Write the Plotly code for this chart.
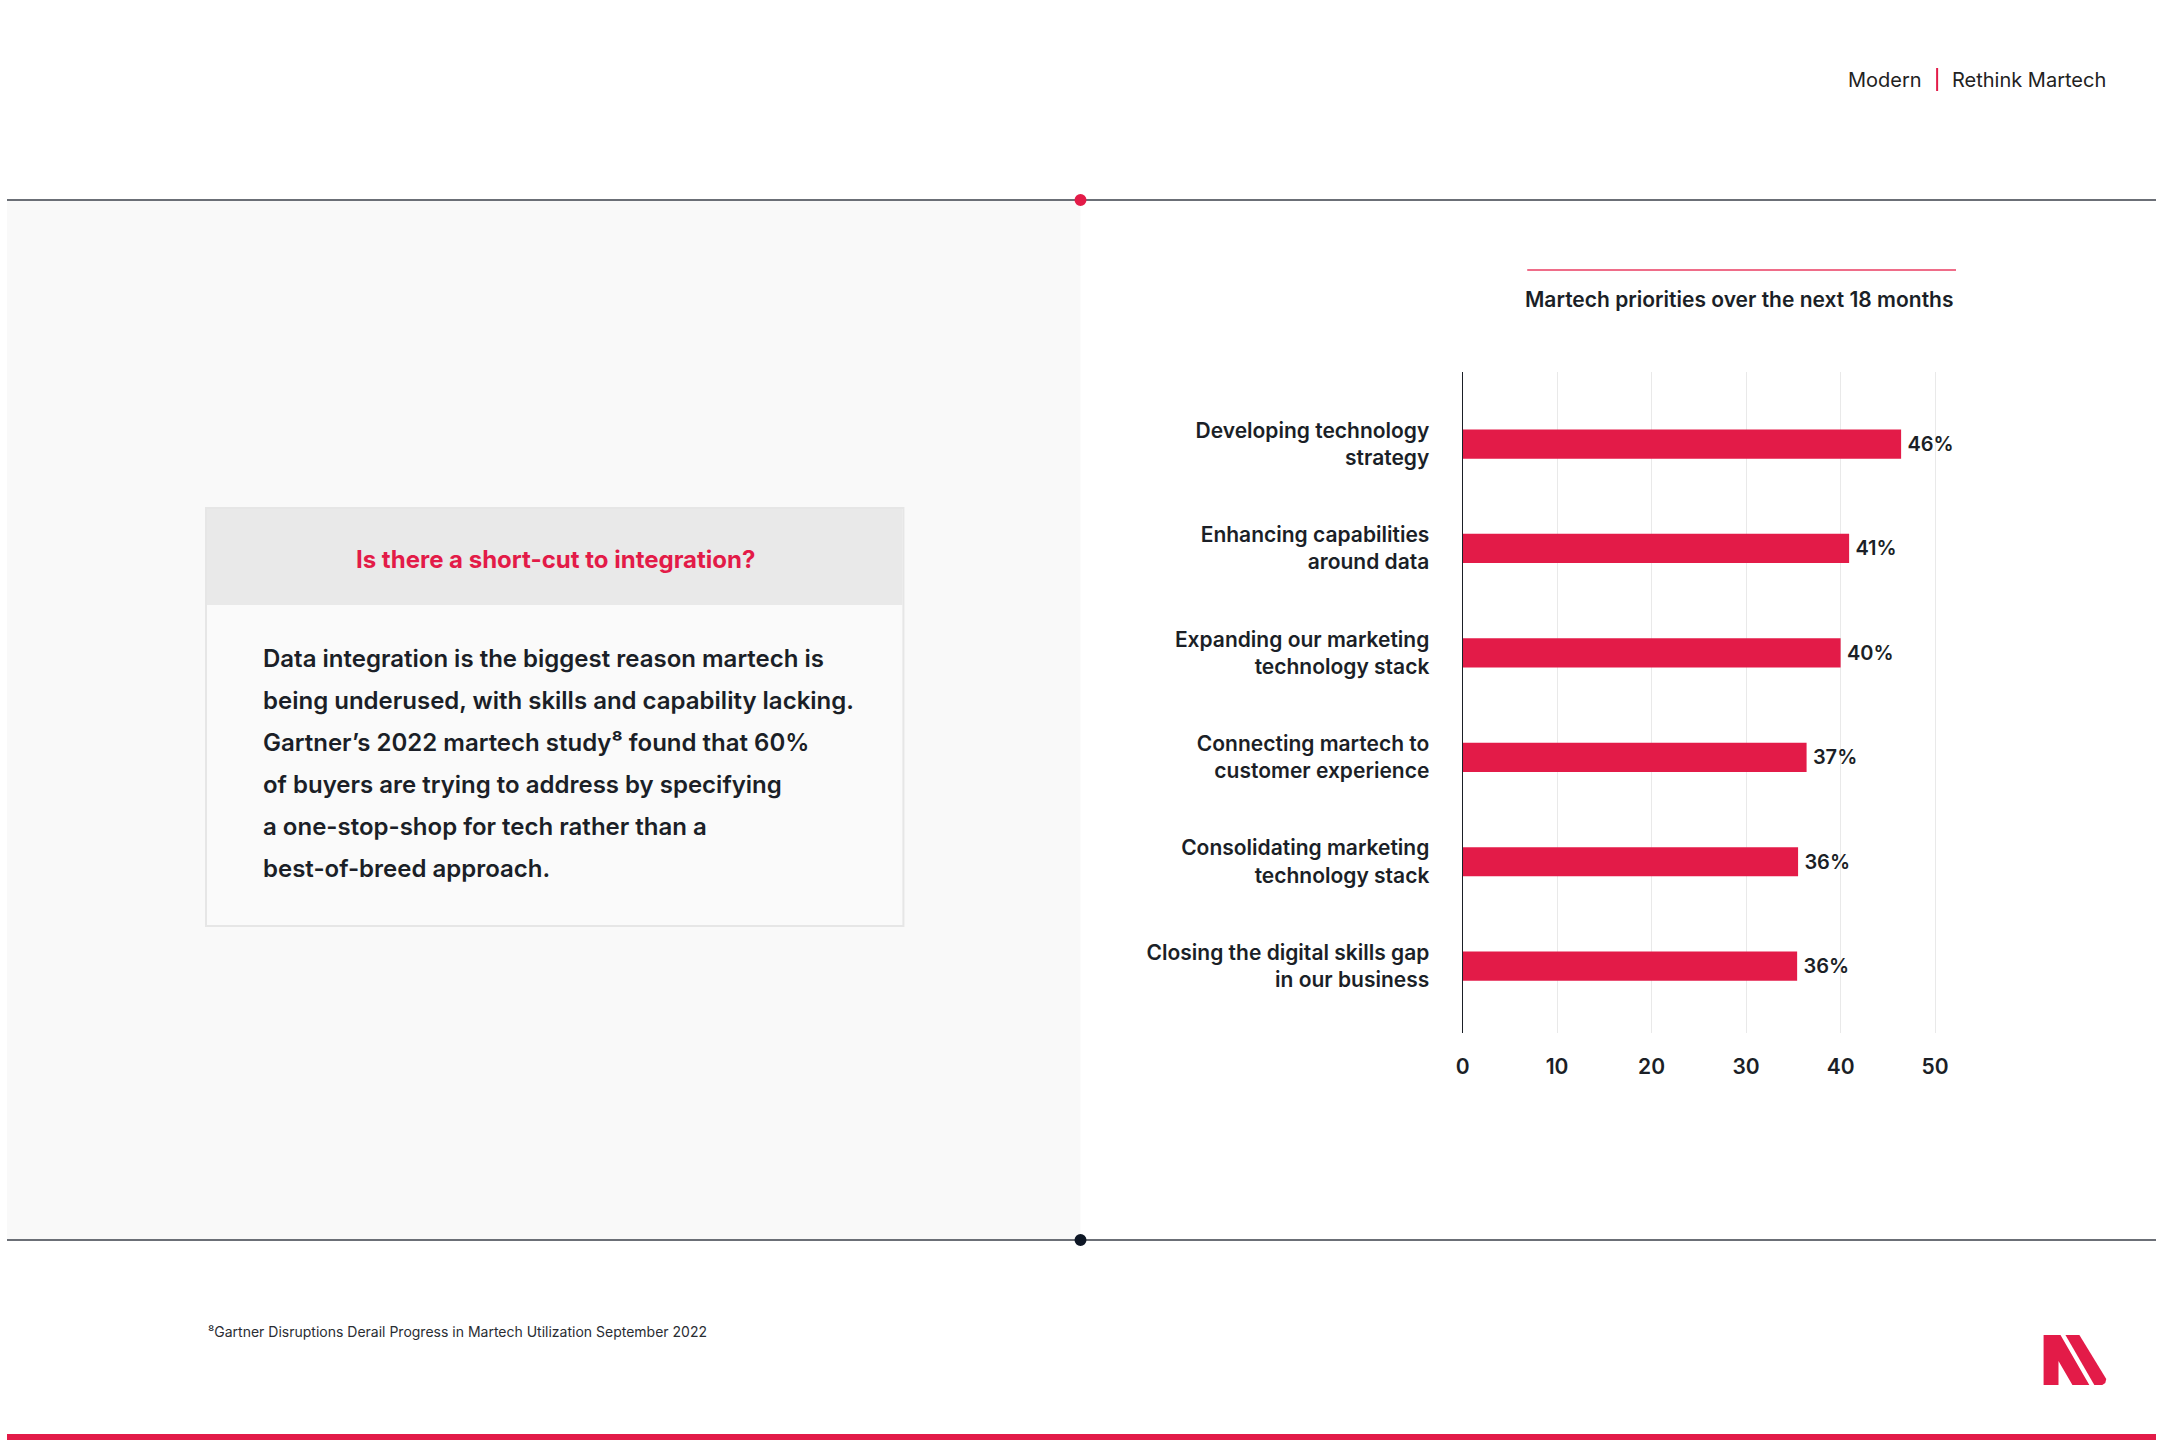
import plotly.graph_objects as go

# ---------------- data ----------------
categories = [
    "Developing technology<br>strategy",
    "Enhancing capabilities<br>around data",
    "Expanding our marketing<br>technology stack",
    "Connecting martech to<br>customer experience",
    "Consolidating marketing<br>technology stack",
    "Closing the digital skills gap<br>in our business",
]
values = [46.4, 40.9, 40.0, 36.4, 35.5, 35.4]
value_labels = ["46%", "41%", "40%", "37%", "36%", "36%"]
x_ticks = [0, 10, 20, 30, 40, 50]

chart_title = "Martech priorities over the next 18 months"
box_title = "Is there a short-cut to integration?"
body_lines = [
    "Data integration is the biggest reason martech is",
    "being underused, with skills and capability lacking.",
    "Gartner’s 2022 martech study⁸ found that 60%",
    "of buyers are trying to address by specifying",
    "a one-stop-shop for tech rather than a",
    "best-of-breed approach.",
]
footnote = "⁸Gartner Disruptions Derail Progress in Martech Utilization September 2022"

# ---------------- styling ----------------
W, H = 2160, 1440
RED = "#E31B48"
DARK = "#1b1f27"
FONT = "Inter"


def px(x):
    return x / W


def py(y):
    return 1 - y / H


fig = go.Figure()
fig.add_trace(go.Bar(
    x=values,
    y=categories,
    orientation="h",
    width=0.28,
    marker=dict(color=RED, line=dict(width=0)),
    text=value_labels,
    texttemplate="\u2009%{text}",
    textposition="outside",
    textfont=dict(family=FONT, size=20, color=DARK, weight=600),
    cliponaxis=False,
    hoverinfo="skip",
))

x0_px, unit_px = 1463, 9.5
xmax = 51

shapes = []
# left grey panel
shapes.append(dict(type="rect", xref="paper", yref="paper", layer="below",
                   x0=px(0), x1=px(1079), y0=py(1240), y1=py(200),
                   fillcolor="#f9f9f9", line=dict(width=0)))
# horizontal rules
for yy in (200, 1240):
    shapes.append(dict(type="line", xref="paper", yref="paper",
                       x0=0, x1=1, y0=py(yy), y1=py(yy),
                       line=dict(color="#6b6f76", width=2)))
# dots
r = 6
shapes.append(dict(type="circle", xref="paper", yref="paper",
                   x0=px(1079 - r), x1=px(1079 + r), y0=py(200 + r), y1=py(200 - r),
                   fillcolor=RED, line=dict(width=0)))
shapes.append(dict(type="circle", xref="paper", yref="paper",
                   x0=px(1079 - r), x1=px(1079 + r), y0=py(1240 + r), y1=py(1240 - r),
                   fillcolor="#0e1726", line=dict(width=0)))
# text box
shapes.append(dict(type="rect", xref="paper", yref="paper", layer="below",
                   x0=px(200), x1=px(901), y0=py(926), y1=py(508),
                   fillcolor="#fafafa", line=dict(color="#e6e6e6", width=2)))
shapes.append(dict(type="rect", xref="paper", yref="paper", layer="below",
                   x0=px(201), x1=px(900), y0=py(605), y1=py(509),
                   fillcolor="#e9e9e9", line=dict(width=0)))
# chart title rule
shapes.append(dict(type="line", xref="paper", yref="paper",
                   x0=px(1528), x1=px(1959), y0=py(270), y1=py(270),
                   line=dict(color="#ea3d62", width=1.5)))
# header separator
shapes.append(dict(type="line", xref="paper", yref="paper",
                   x0=px(1940), x1=px(1940), y0=py(91), y1=py(68),
                   line=dict(color=RED, width=2)))
# bottom red band
shapes.append(dict(type="rect", xref="paper", yref="paper",
                   x0=0, x1=1, y0=py(1440), y1=py(1434),
                   fillcolor=RED, line=dict(width=0)))


def path(points):
    s = "M " + " L ".join(f"{px(a):.5f},{py(b):.5f}" for a, b in points) + " Z"
    return s


logo_left = [(2047, 1335), (2064, 1335), (2093, 1385), (2076, 1385),
             (2062, 1361), (2062, 1385), (2047, 1385)]
logo_right = [(2069, 1335), (2083, 1335), (2110, 1379), (2109, 1383),
              (2106, 1385), (2098, 1385)]
for pts in (logo_left, logo_right):
    shapes.append(dict(type="path", xref="paper", yref="paper",
                       path=path(pts), fillcolor=RED, line=dict(width=0)))

annotations = []
# header
annotations.append(dict(xref="paper", yref="paper", x=px(1927), y=py(80),
                        xanchor="right", yanchor="middle", showarrow=False,
                        text="Modern", font=dict(family=FONT, size=20, color="#222")))
annotations.append(dict(xref="paper", yref="paper", x=px(1953), y=py(80),
                        xanchor="left", yanchor="middle", showarrow=False,
                        text="Rethink Martech", font=dict(family=FONT, size=20, color="#222")))
# chart title
annotations.append(dict(xref="paper", yref="paper", x=px(1959), y=py(299),
                        xanchor="right", yanchor="middle", showarrow=False,
                        text=chart_title,
                        font=dict(family=FONT, size=21, color=DARK, weight=600)))
# box title
annotations.append(dict(xref="paper", yref="paper", x=px(551), y=py(559),
                        xanchor="center", yanchor="middle", showarrow=False,
                        text=box_title,
                        font=dict(family=FONT, size=24, color=RED, weight=700)))
# body text
for i, line in enumerate(body_lines):
    annotations.append(dict(xref="paper", yref="paper", x=px(255), y=py(658.5 + 41.9 * i),
                            xanchor="left", yanchor="middle", showarrow=False,
                            text=line,
                            font=dict(family=FONT, size=24, color=DARK, weight=600)))
# footnote
annotations.append(dict(xref="paper", yref="paper", x=px(200), y=py(1331),
                        xanchor="left", yanchor="middle", showarrow=False,
                        text=footnote,
                        font=dict(family=FONT, size=14, color="#2a2d33")))

fig.update_layout(
    width=W, height=H,
    margin=dict(l=0, r=0, t=0, b=0),
    paper_bgcolor="white",
    plot_bgcolor="rgba(0,0,0,0)",
    showlegend=False,
    font=dict(family=FONT, color=DARK),
    shapes=shapes,
    annotations=annotations,
    xaxis=dict(
        domain=[px(x0_px), px(x0_px + xmax * unit_px)],
        range=[0, xmax],
        tickvals=x_ticks,
        showgrid=True, gridcolor="#e9e9e9", gridwidth=1,
        zeroline=False, showline=False,
        tickfont=dict(family=FONT, size=21, color=DARK, weight=600),
        ticks="", ticklabelstandoff=19,
        fixedrange=True,
    ),
    yaxis=dict(
        domain=[py(1033), py(372)],
        type="category",
        categoryorder="array", categoryarray=categories,
        range=[5.64, -0.69],
        showgrid=False, zeroline=False,
        showline=True, linecolor=DARK, linewidth=1,
        tickfont=dict(family=FONT, size=21, color=DARK, weight=600),
        ticks="", ticklabelstandoff=28,
        fixedrange=True,
    ),
    bargap=0.7,
)

fig.write_html(
    "out.html",
    config={"displayModeBar": False},
    post_script="document.body.style.margin='0';document.body.style.overflow='hidden';",
)
